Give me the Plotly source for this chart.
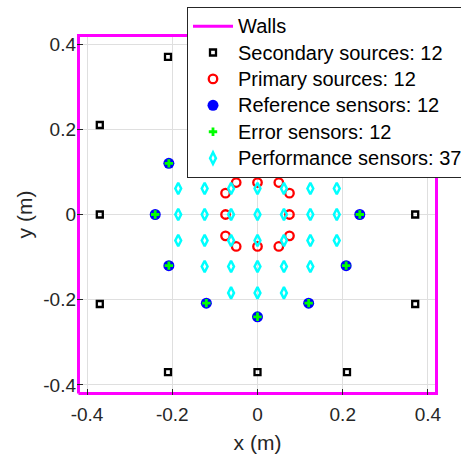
import plotly.graph_objects as go

# ---- data ----
wall_x = [-0.42, 0.42, 0.42, -0.42, -0.42]
wall_y = [-0.42, -0.42, 0.42, 0.42, -0.42]

sec_x = [0.37, 0.37, 0.37, 0.21, 0.0, -0.21, -0.37, -0.37, -0.37, -0.21, 0.0, 0.21]
sec_y = [-0.21, 0.0, 0.21, 0.37, 0.37, 0.37, 0.21, 0.0, -0.21, -0.37, -0.37, -0.37]

pri_x = [0.075, 0.075, 0.05, 0.0, -0.05, -0.075, -0.075, -0.075, -0.05, 0.0, 0.05, 0.075]
pri_y = [0.0, 0.05, 0.075, 0.075, 0.075, 0.05, 0.0, -0.05, -0.075, -0.075, -0.075, -0.05]

ref_x = [0.24, 0.208, 0.12, 0.0, -0.12, -0.208, -0.24, -0.208, -0.12, 0.0, 0.12, 0.208]
ref_y = [0.0, 0.12, 0.208, 0.24, 0.208, 0.12, 0.0, -0.12, -0.208, -0.24, -0.208, -0.12]

err_x = [0.24, 0.208, 0.12, 0.0, -0.12, -0.208, -0.24, -0.208, -0.12, 0.0, 0.12, 0.208]
err_y = [0.0, 0.12, 0.208, 0.24, 0.208, 0.12, 0.0, -0.12, -0.208, -0.24, -0.208, -0.12]

perf_x = [-0.062, 0.0, 0.062,
          -0.124, -0.062, 0.0, 0.062, 0.124,
          -0.186, -0.124, -0.062, 0.0, 0.062, 0.124, 0.186,
          -0.186, -0.124, -0.062, 0.0, 0.062, 0.124, 0.186,
          -0.186, -0.124, -0.062, 0.0, 0.062, 0.124, 0.186,
          -0.124, -0.062, 0.0, 0.062, 0.124,
          -0.062, 0.0, 0.062]
perf_y = [0.184, 0.184, 0.184,
          0.122, 0.122, 0.122, 0.122, 0.122,
          0.061, 0.061, 0.061, 0.061, 0.061, 0.061, 0.061,
          0.0, 0.0, 0.0, 0.0, 0.0, 0.0, 0.0,
          -0.061, -0.061, -0.061, -0.061, -0.061, -0.061, -0.061,
          -0.122, -0.122, -0.122, -0.122, -0.122,
          -0.184, -0.184, -0.184]

names = ["Walls", "Secondary sources: 12", "Primary sources: 12",
         "Reference sensors: 12", "Error sensors: 12", "Performance sensors: 37"]

tick_vals = [-0.4, -0.2, 0, 0.2, 0.4]
tick_text = ["-0.4", "-0.2", "0", "0.2", "0.4"]

FONT = "Liberation Sans, Arial, Helvetica, sans-serif"


def lname(s):
    return '<span style="font-size:20px">' + s + '</span>'


fig = go.Figure()
fig.add_trace(go.Scatter(x=wall_x, y=wall_y, mode="lines", name=lname(names[0]),
                         line=dict(color="#FF00FF", width=3)))
fig.add_trace(go.Scatter(x=sec_x, y=sec_y, mode="markers", name=lname(names[1]),
                         marker=dict(symbol="square-open", size=6, color="black",
                                     line=dict(width=2.3, color="black"))))
fig.add_trace(go.Scatter(x=pri_x, y=pri_y, mode="markers", name=lname(names[2]),
                         marker=dict(symbol="circle-open", size=8.5, color="#FF0000",
                                     line=dict(width=2.3, color="#FF0000"))))
fig.add_trace(go.Scatter(x=ref_x, y=ref_y, mode="markers", name=lname(names[3]),
                         marker=dict(symbol="circle", size=11, color="#0000FF",
                                     line=dict(width=0))))
fig.add_trace(go.Scatter(x=err_x, y=err_y, mode="markers", name=lname(names[4]),
                         marker=dict(symbol="cross", size=7, color="#00FF00",
                                     line=dict(width=0))))
fig.add_trace(go.Scatter(x=perf_x, y=perf_y, mode="markers", name=lname(names[5]),
                         marker=dict(symbol="diamond-tall-open", size=8.3, color="#00FFFF",
                                     line=dict(width=2.5, color="#00FFFF"))))

axis_common = dict(
    range=[-0.4235, 0.4235],
    tickvals=tick_vals, ticktext=tick_text,
    ticks="inside", ticklen=6, tickwidth=1, tickcolor="#262626",
    showgrid=True, gridcolor="#dfdfdf", gridwidth=1,
    zeroline=False, showline=False,
    tickfont=dict(family=FONT, size=19, color="#262626"),
)

fig.update_layout(
    width=461, height=457,
    margin=dict(l=77, r=23, t=34, b=62, autoexpand=False),
    paper_bgcolor="white", plot_bgcolor="white",
    font=dict(family=FONT, color="#262626"),
    xaxis=dict(**axis_common, ticklabelstandoff=6,
               title=dict(text="x (m)", font=dict(family=FONT, size=21, color="#262626"),
                          standoff=11)),
    yaxis=dict(**axis_common,
               title=dict(text="y (m)", font=dict(family=FONT, size=21, color="#262626"),
                          standoff=4),
               scaleanchor="x", scaleratio=1),
    legend=dict(x=0.3047, y=1.075, xanchor="left", yanchor="top",
                bgcolor="white", bordercolor="#262626", borderwidth=1,
                font=dict(family=FONT, size=18, color="black"),
                itemwidth=40, tracegroupgap=0, itemclick=False),
    showlegend=True,
)

fig.write_html("out.html")
